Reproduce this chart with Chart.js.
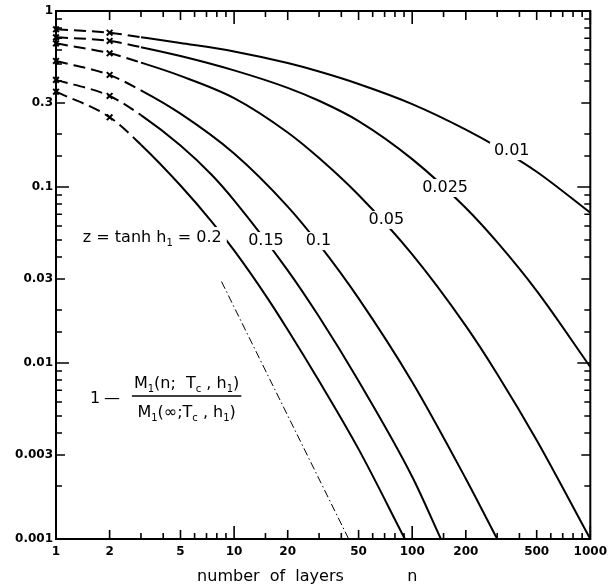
<!DOCTYPE html>
<html>
<head>
<meta charset="utf-8">
<script src="https://cdn.jsdelivr.net/npm/chart.js@4.4.0/dist/chart.umd.min.js"></script>
<style>
  html, body { margin: 0; padding: 0; background: #fff; }
  #wrap { width: 613px; height: 586px; }
</style>
</head>
<body>
<div id="wrap"><canvas id="grafica" width="613" height="586"></canvas></div>
<script>
/* ===============================
   DATOS
=============================== */
const etiquetasX = [1, 2, 5, 10, 20, 50, 100, 200, 500, 1000];
const etiquetasY = [1, 0.3, 0.1, 0.03, 0.01, 0.003, 0.001];
const textosY = ["1", "0.3", "0.1", "0.03", "0.01", "0.003", "0.001"];

const zValores = ["0.01", "0.025", "0.05", "0.1", "0.15", "0.2"];

const capas001 = [1, 2, 3, 5, 10, 20, 30, 50, 100, 200, 300, 500, 1000];
const m001 = [0.787, 0.753, 0.710, 0.658, 0.589, 0.506, 0.453, 0.385, 0.296, 0.212, 0.169, 0.122, 0.0714];

const capas0025 = [1, 2, 3, 5, 10, 20, 30, 50, 100, 200, 300, 500, 1000];
const m0025 = [0.709, 0.676, 0.623, 0.555, 0.460, 0.366, 0.309, 0.237, 0.144, 0.076, 0.0486, 0.0257, 0.0095];

const capas005 = [1, 2, 3, 5, 10, 20, 30, 50, 100, 200, 300, 500, 1000];
const m005 = [0.655, 0.575, 0.509, 0.428, 0.320, 0.204, 0.146, 0.090, 0.0414, 0.01625, 0.00867, 0.00364, 0.001];

const capas01 = [1, 2, 3, 5, 10, 20, 30, 50, 100, 200, 300];
const m01 = [0.520, 0.433, 0.354, 0.261, 0.155, 0.0774, 0.0472, 0.0233, 0.0078, 0.0022, 0.001];

const capas015 = [1, 2, 3, 5, 7.5, 10, 20, 30, 50, 100, 145];
const m015 = [0.406, 0.329, 0.256, 0.172, 0.117, 0.084, 0.0336, 0.0183, 0.0079, 0.00226, 0.001];

const capas02 = [1, 2, 3, 5, 7.5, 10, 15, 20, 30, 50, 91];
const m02 = [0.348, 0.249, 0.174, 0.102, 0.0634, 0.0436, 0.0243, 0.01545, 0.0079, 0.00324, 0.001];

// recta de pendiente -2 (punto y raya)
const capasAsint = [8.5, 44];
const mAsint = [0.029, 0.001];

const series = [
  [capas001, m001], [capas0025, m0025], [capas005, m005],
  [capas01, m01], [capas015, m015], [capas02, m02]
];

/* ===============================
   TEXTOS (posiciones en datos)
=============================== */
const rotulos = [
  { texto: "0.01",  n: 362,  v: 0.160 },
  { texto: "0.025", n: 153,  v: 0.0987 },
  { texto: "0.05",  n: 71.6, v: 0.065 },
  { texto: "0.1",   n: 29.8, v: 0.0493 },
  { texto: "0.15",  n: 15.1, v: 0.0493 }
];
const FUENTE = '"DejaVu Sans", sans-serif';

function aPuntos(xs, ys) {
  return xs.map((x, i) => ({ x: x, y: ys[i] }));
}

function esIgual(a, b) {
  return Math.abs(a - b) / b < 1e-6;
}

function largoTick(v, etiquetas) {
  const e = Math.log10(v);
  if (Math.abs(e - Math.round(e)) < 1e-6) return 13;
  if (etiquetas.some(l => esIgual(v, l))) return 9;
  return 6;
}

// texto con subindices: partes = [[texto, esSub], ...]
function textoSub(ctx, partes, x, y, tam, dibujar) {
  let cx = x;
  partes.forEach(([t, sub]) => {
    ctx.font = `${sub ? Math.round(tam * 0.62) : tam}px ${FUENTE}`;
    if (dibujar) ctx.fillText(t, cx, sub ? y + tam * 0.28 : y);
    cx += ctx.measureText(t).width;
  });
  return cx - x;
}

/* ===============================
   PLUGINS
=============================== */
const rotulosPlugin = {
  id: "rotulos",
  afterDatasetsDraw(chart) {
    const { ctx, scales: { x, y } } = chart;
    ctx.save();
    ctx.fillStyle = "#000";
    ctx.textAlign = "center";
    ctx.textBaseline = "middle";
    ctx.font = `16px ${FUENTE}`;
    rotulos.forEach(r => {
      const px = x.getPixelForValue(r.n);
      const py = y.getPixelForValue(r.v);
      const w = ctx.measureText(r.texto).width;
      ctx.fillStyle = "#fff";
      ctx.fillRect(px - w / 2 - 4, py - 9, w + 8, 18);
      ctx.fillStyle = "#000";
      ctx.fillText(r.texto, px, py);
    });

    // z = tanh h1 = 0.2
    ctx.textAlign = "left";
    ctx.textBaseline = "alphabetic";
    const partesZ = [["z = tanh h", false], ["1", true], [" = 0.2", false]];
    const zx = x.getPixelForValue(1.415);
    const zy = y.getPixelForValue(0.0487);
    const wz = textoSub(ctx, partesZ, zx, zy, 16, false);
    ctx.fillStyle = "#fff";
    ctx.fillRect(zx - 3, zy - 15, wz + 8, 22);
    ctx.fillStyle = "#000";
    textoSub(ctx, partesZ, zx, zy, 16, true);

    // 1 - M1(n;Tc,h1)/M1(inf;Tc,h1)
    const fx = x.getPixelForValue(1.55);
    const fy = y.getPixelForValue(0.0065);
    ctx.font = `16px ${FUENTE}`;
    ctx.fillText("1", fx, fy + 7);
    ctx.fillText("\u2014", fx + 14, fy + 7);
    const num = [["M", false], ["1", true], ["(n;  T", false], ["c", true], [" , h", false], ["1", true], [")", false]];
    const den = [["M", false], ["1", true], ["(\u221e;T", false], ["c", true], [" , h", false], ["1", true], [")", false]];
    const wn = textoSub(ctx, num, 0, 0, 16, false);
    const wd = textoSub(ctx, den, 0, 0, 16, false);
    const fl = fx + 44;
    const wmax = Math.max(wn, wd);
    textoSub(ctx, num, fl + (wmax - wn) / 2, fy - 8, 16, true);
    textoSub(ctx, den, fl + (wmax - wd) / 2, fy + 21, 16, true);
    ctx.strokeStyle = "#000";
    ctx.lineWidth = 1.5;
    ctx.beginPath();
    ctx.moveTo(fl - 2, fy);
    ctx.lineTo(fl + wmax + 2, fy);
    ctx.stroke();
    ctx.restore();
  }
};

const marcoPlugin = {
  id: "marco",
  afterDraw(chart) {
    const { ctx, chartArea: a, scales: { x, y } } = chart;
    ctx.save();
    ctx.strokeStyle = "#000";
    ctx.lineWidth = 2;
    ctx.strokeRect(a.left, a.top, a.right - a.left, a.bottom - a.top);
    ctx.lineWidth = 1.6;
    ctx.beginPath();
    x.ticks.forEach(t => {
      const px = x.getPixelForValue(t.value);
      const len = largoTick(t.value, etiquetasX);
      ctx.moveTo(px, a.bottom); ctx.lineTo(px, a.bottom - len);
      ctx.moveTo(px, a.top); ctx.lineTo(px, a.top + len);
    });
    y.ticks.forEach(t => {
      const py = y.getPixelForValue(t.value);
      const len = largoTick(t.value, etiquetasY);
      ctx.moveTo(a.left, py); ctx.lineTo(a.left + len, py);
      ctx.moveTo(a.right, py); ctx.lineTo(a.right - len, py);
    });
    ctx.stroke();

    // titulo del eje x
    ctx.fillStyle = "#000";
    ctx.font = `16px ${FUENTE}`;
    ctx.textAlign = "center";
    ctx.textBaseline = "middle";
    ctx.fillText("number  of  layers", x.getPixelForValue(16), 577);
    ctx.fillText("n", x.getPixelForValue(100), 577);
    ctx.restore();
  }
};

/* ===============================
   GRAFICA
=============================== */
const datasets = series.map(([xs, ys], i) => ({
  label: "z = " + zValores[i],
  data: aPuntos(xs, ys),
  borderColor: "#000",
  backgroundColor: "#000",
  borderWidth: 2,
  cubicInterpolationMode: "monotone",
  pointStyle: "crossRot",
  pointRadius: c => (c.raw && c.raw.x <= 2 ? 4 : 0),
  pointBorderWidth: 2,
  clip: false,
  segment: {
    borderDash: c => (c.p1.parsed.x <= 3 ? [12, 6] : undefined)
  }
}));

datasets.push({
  label: "asintota",
  data: aPuntos(capasAsint, mAsint),
  borderColor: "#000",
  borderWidth: 1,
  borderDash: [8, 3, 1.5, 3],
  pointRadius: 0
});

new Chart(document.getElementById("grafica"), {
  type: "line",
  data: { datasets },
  options: {
    responsive: false,
    animation: false,
    layout: { padding: { top: 11, right: 20, left: 0, bottom: 0 } },
    plugins: { legend: { display: false }, tooltip: { enabled: false } },
    scales: {
      x: {
        type: "logarithmic",
        min: 1,
        max: 1000,
        grid: { display: false, drawTicks: false },
        border: { display: false },
        afterFit: s => { s.height = 47; },
        ticks: {
          autoSkip: false,
          maxRotation: 0,
          minRotation: 0,
          padding: 6,
          color: "#000",
          font: { family: "DejaVu Sans", size: 12, weight: "bold" },
          callback: v => (etiquetasX.some(l => esIgual(v, l)) ? String(Math.round(v)) : "")
        }
      },
      y: {
        type: "logarithmic",
        min: 0.001,
        max: 1,
        grid: { display: false, drawTicks: false },
        border: { display: false },
        afterFit: s => { s.width = 56; },
        ticks: {
          autoSkip: false,
          padding: 3,
          color: "#000",
          font: { family: "DejaVu Sans", size: 12, weight: "bold" },
          callback: v => {
            const i = etiquetasY.findIndex(l => esIgual(v, l));
            return i >= 0 ? textosY[i] : "";
          }
        }
      }
    }
  },
  plugins: [rotulosPlugin, marcoPlugin]
});
</script>
</body>
</html>
